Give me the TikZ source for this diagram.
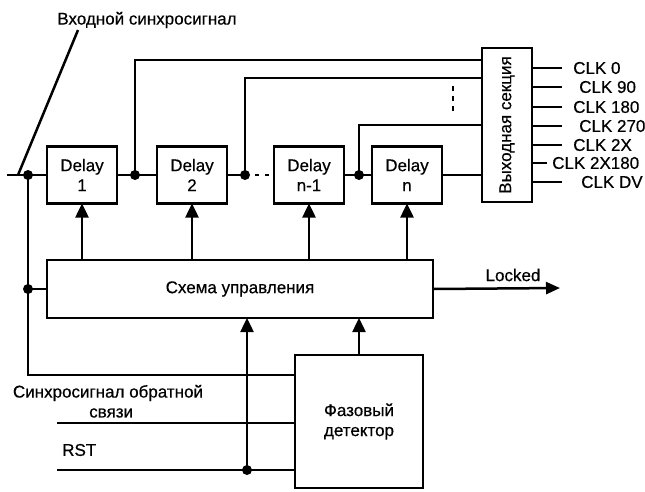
\documentclass[tikz,border=0pt]{standalone}
\usepackage{fontspec}
\setmainfont{Liberation Sans}[BoldFont={Liberation Sans}, BoldFeatures={FakeBold=0.5}]
\usetikzlibrary{positioning,arrows.meta}

\begin{document}
\begin{tikzpicture}[
    x=1pt, y=-1pt,
    font=\fontsize{17}{20}\selectfont\bfseries,
    line width=2.5pt,
    delay/.style={draw, align=center, minimum width=70pt, minimum height=57pt,
                  inner sep=2pt, outer sep=0pt},
    block/.style={draw, align=center, inner sep=2pt, outer sep=0pt},
    dot/.style={circle, fill, inner sep=0pt, minimum size=10pt},
    sig/.style={-{Triangle[length=14pt, width=13pt]}},
    clk/.style={anchor=west, inner sep=0pt},
  ]
  \useasboundingbox (0,0) rectangle (645,491);

  % delay line
  \node[delay] (d1) at (82,175) {Delay\\1};
  \node[delay, right=40pt of d1] (d2) {Delay\\2};
  \node[delay, right=47pt of d2] (dn1) {Delay\\n-1};
  \node[delay, right=28pt of dn1] (dn) {Delay\\n};

  % output section
  \node[block, minimum width=50pt, minimum height=154pt, anchor=south west]
    (out) at (482,202) {};
  \node[rotate=90] (outlbl) at (out.center) {Выходная секция};

  % control and phase detector
  \node[block, minimum width=386pt, minimum height=58pt] (ctrl) at (240,289)
    {Схема управления};
  \node[block, minimum width=128pt, minimum height=133pt] (pd) at (359,421.5)
    {Фазовый\\детектор};

  % input clock
  \coordinate (in) at (7,175);
  \coordinate (slant) at (18,175);
  \coordinate (slanttop) at (78,30);
  \node (inlbl) at (147,20) {Входной синхросигнал};
  \node[dot] (j0) at (28,175) {};
  \draw (in) -- (d1.west);
  \draw (slant) -- (slanttop);

  % taps along the line
  \node[dot] (j1) at (135,175) {};
  \node[dot] (j2) at (245,175) {};
  \node[dot] (j3) at (359,175) {};
  \draw (d1.east) -- (d2.west);
  \draw (d2.east) -- (j2.center);
  \draw[dash pattern=on 4pt off 6pt] (j2.center) -- (dn1.west);
  \draw (dn1.east) -- (dn.west);
  \draw (dn.east) -- (out.west |- dn.east);
  \draw (j1.center) |- (out.west |- 0,60);
  \draw (j2.center) |- (out.west |- 0,78);
  \draw (j3.center) |- (out.west |- 0,125);
  \draw[dash pattern=on 5pt off 5pt] (453,86) -- (453,113);

  % clock outputs
  \foreach \y/\e/\x/\t [count=\i] in {68/562/572/CLK 0, 87/562/578/CLK 90,
      107/562/572/CLK 180, 126/562/578/CLK 270, 145/562/572/CLK 2X,
      163/547/551/CLK 2X180, 182/562/580/CLK DV}{
    \coordinate (o\i) at (\e,\y);
    \draw (out.east |- o\i) -- (o\i);
    \node[clk] (clk\i) at (\x,\y) {\t};
  }

  % control to delays
  \foreach \d in {d1,d2,dn1,dn}
    \draw[sig] (ctrl.north -| \d.south) -- (\d.south);

  % input clock to control and detector
  \node[dot] (j4) at (28,289) {};
  \draw (j0.center) -- (j4.center) -- (ctrl.west);
  \draw (j4.center) |- (pd.west |- 0,375);
  \draw[sig] (pd.north) -- (pd.north |- ctrl.south);

  % feedback clock and reset
  \node (fblbl) at (108,393) {Синхросигнал обратной};
  \node[clk] (fblbl2) at (88,413) {связи};
  \coordinate (fb) at (57,423);
  \draw (fb) -- (pd.west |- fb);
  \node[clk] (rstlbl) at (61,450) {RST};
  \coordinate (rst) at (57,470);
  \node[dot] (j5) at (247,470) {};
  \draw (rst) -- (pd.west |- rst);
  \draw[sig] (j5.center) -- (j5 |- ctrl.south);

  % locked
  \coordinate (lk) at (560,288);
  \node (lklbl) at (513,275) {Locked};
  \draw[-{Triangle[length=14pt, width=12pt]}] (ctrl.east) -- (lk);
\end{tikzpicture}
\end{document}
